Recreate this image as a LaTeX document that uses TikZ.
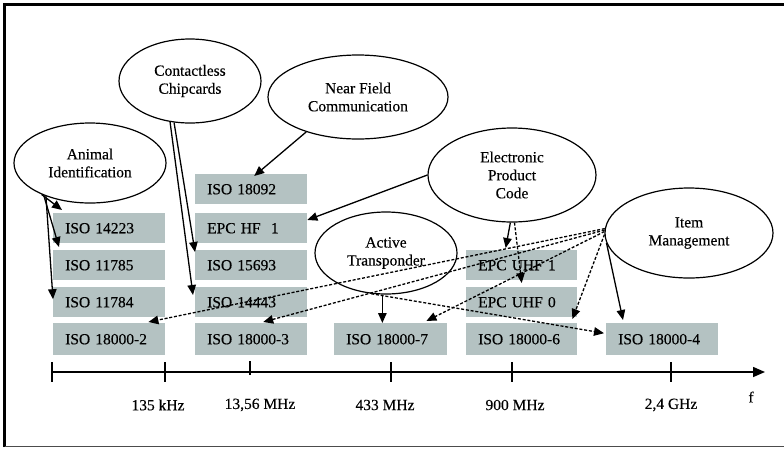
\documentclass[tikz,border=0pt]{standalone}
\usepackage{fontspec}
\setmainfont{Liberation Serif}
\newfontfamily\heavyserif{Liberation Serif}[FakeBold=0.3]
\usetikzlibrary{shapes.geometric,arrows.meta}
\definecolor{boxgray}{RGB}{180,194,194}
\tikzset{
  isobox/.style={fill=boxgray, draw=none, anchor=north west, minimum height=30pt,
    text width=88pt, inner xsep=12pt, inner ysep=0pt, align=left,
    font=\heavyserif\fontsize{15.5}{17}\selectfont},
  bubble/.style={ellipse, draw, line width=1.2pt, inner sep=0pt, align=center,
    font=\heavyserif\fontsize{15.5}{18}\selectfont},
  conn/.style={line width=1.3pt, -{Triangle[length=10pt,width=8.5pt]}},
  dconn/.style={conn, dash pattern=on 3pt off 1.8pt},
  freq/.style={font=\heavyserif\fontsize{15.5}{17}\selectfont},
}
\begin{document}
\begin{tikzpicture}[x=1pt,y=-1pt]
\useasboundingbox (0,0) rectangle (784,448);
% frame
\draw[line width=3pt] (4.5,447) -- (4.5,4.5) -- (784,4.5);
\draw[line width=1.2pt, black!70] (4.5,446.5) -- (784,446.5);

% boxes column 1
\node[isobox] (b14223) at (53,213) {ISO 14223};
\node[isobox] (b11785) at (53,250) {ISO 11785};
\node[isobox] (b11784) at (53,287) {ISO 11784};
\node[isobox, minimum height=32pt] (b2) at (53,323) {ISO 18000-2};
% column 2
\node[isobox] (b18092) at (195,174) {ISO 18092};
\node[isobox] (bhf1) at (195,213) {EPC HF\ \ 1};
\node[isobox] (b15693) at (195,250) {ISO 15693};
\node[isobox] (b14443) at (195,287) {ISO 14443};
\node[isobox, minimum height=32pt] (b3) at (195,323) {ISO 18000-3};
% column 3
\node[isobox, text width=89pt, minimum height=32pt] (b7) at (334,323) {ISO 18000-7};
% column 4
\node[isobox, text width=87pt] (buhf1) at (466,250) {EPC UHF 1};
\node[isobox, text width=87pt] (buhf0) at (466,287) {EPC UHF 0};
\node[isobox, text width=87pt, minimum height=32pt] (b6) at (466,323) {ISO 18000-6};
% column 5
\node[isobox, minimum height=32pt] (b4) at (606,323) {ISO 18000-4};

% ellipses
\node[bubble, minimum width=152pt, minimum height=80pt] (ai) at (90,163) {Animal\\Identification};
\node[bubble, minimum width=142pt, minimum height=84pt] (cc) at (190,81) {Contactless\\Chipcards};
\node[bubble, minimum width=180pt, minimum height=84pt] (nfc) at (358,97) {Near Field\\Communication};
\node[bubble, minimum width=168pt, minimum height=94pt] (epc) at (512,175) {Electronic\\Product\\Code};
\node[bubble, minimum width=142pt, minimum height=82pt] (at) at (386,253) {Active\\Transponder};
\node[bubble, minimum width=168pt, minimum height=90pt] (im) at (689,233) {Item\\Management};

% connectors: Animal Identification
\draw[conn] (ai.213) -- ([xshift=9pt,yshift=3pt]b14223.north west);
\draw[conn] (ai.215) -- ([xshift=6pt,yshift=3pt]b11785.north west);
\draw[conn] (ai.217) -- ([yshift=3pt]b11784.west);
% Contactless Chipcards
\draw[conn] (cc.249) -- ([yshift=-2pt]b15693.north west);
\draw[conn] (cc.244) -- ([xshift=-2pt,yshift=-8pt]b14443.north west);
% NFC
\draw[conn] (nfc.214) -- ([xshift=3pt,yshift=-2pt]b18092.north);
% EPC
\draw[conn] (epc.west) -- ([yshift=-7pt]bhf1.north east);
\draw[conn] (epc.268) -- ([xshift=-16pt,yshift=2pt]buhf1.north);
\draw[dconn] (epc.273) -- ([yshift=4pt]buhf0.north);
% Active Transponder
\draw[conn] (at.265) -- (at.265 |- b7.north);
\draw[dconn] (at.250) -- ([xshift=-2pt,yshift=6pt]b4.west);
% Item Management
\draw[dconn] (im.177) -- ([xshift=-17pt,yshift=1pt]b2.north east);
\draw[dconn] (im.178) -- ([xshift=12pt,yshift=1pt]b3.north);
\draw[dconn] (im.179) -- ([xshift=-21pt,yshift=2pt]b7.north east);
\draw[dconn] (im.181) -- ([xshift=-5pt,yshift=4pt]b6.north east);
\draw[conn] (im.187) -- ([xshift=17pt,yshift=3pt]b4.north west);

% frequency axis
\coordinate (ax0) at (52,372);
\coordinate (ax1) at (765,372);
\draw[line width=1.5pt, -{Triangle[length=12pt,width=10pt]}] (ax0) -- (ax1);
\foreach \x in {52,165,391,512,671}
  \draw[line width=1.5pt] (\x,362) -- (\x,382);
\draw[line width=1.5pt] (250,361) -- (250,375);
\node[freq] (f135) at (158,405) {135 kHz};
\node[freq] (f1356) at (260,405) {13,56 MHz};
\node[freq] (f433) at (385,405) {433 MHz};
\node[freq] (f900) at (515,405) {900 MHz};
\node[freq] (f24) at (671,405) {2,4 GHz};
\node[freq] (ff) at (751,397) {f};
\end{tikzpicture}
\end{document}
